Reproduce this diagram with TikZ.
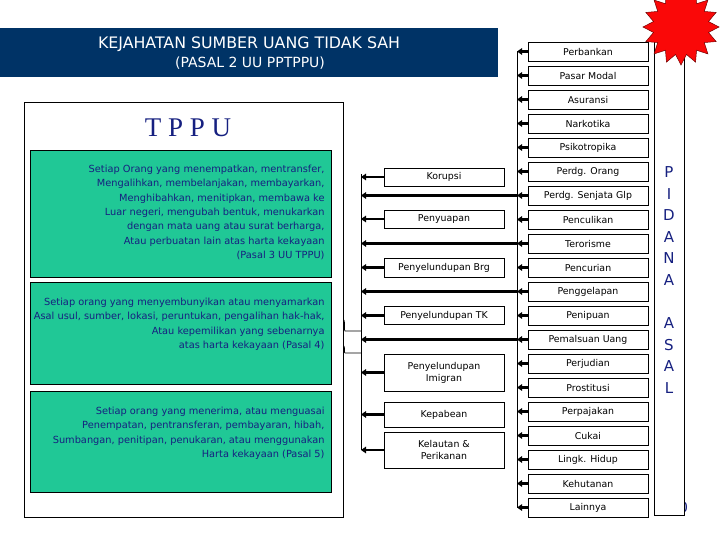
\documentclass[tikz,border=0pt]{standalone}
\usepackage{fontspec}
\setmainfont{DejaVu Sans}
\newfontfamily\tppufont{Liberation Serif}
\usetikzlibrary{arrows.meta,positioning}
\definecolor{bannerblue}{RGB}{0,51,102}
\definecolor{pasalgreen}{RGB}{32,200,150}
\definecolor{inknavy}{RGB}{22,32,128}
\definecolor{starred}{RGB}{250,8,8}

\begin{document}
\begin{tikzpicture}[x=1pt,y=-1pt,
  crimebox/.style={draw, line width=0.7pt, minimum width=120pt, minimum height=19pt,
    inner sep=1pt, align=center, font=\fontsize{9.4}{12}\selectfont},
  pasalbox/.style={draw, line width=0.7pt, fill=pasalgreen, minimum width=301pt, anchor=north west},
  pasaltext/.style={text=inknavy, align=right, inner sep=0pt, anchor=north east,
    font=\fontsize{9.8}{14.3}\selectfont},
  flow/.style={line width=2.4pt, -{Triangle[length=5pt,width=6.5pt]}},
  asalletter/.style={text=inknavy, inner sep=0pt, font=\fontsize{15}{15}\selectfont}]
\useasboundingbox (0,0) rectangle (720,540);
\clip (0,0) rectangle (720,540);

% title banner
\fill[bannerblue] (0,28) rectangle (498,77);
\node[text=white, font=\fontsize{15.8}{16}\selectfont] (title) at (249,44) {KEJAHATAN SUMBER UANG TIDAK SAH};
\node[text=white, font=\fontsize{14}{14}\selectfont] (pasal2) at (250,63) {(PASAL 2 UU PPTPPU)};

% TPPU box with the three pasal
\node[draw, line width=0.7pt, minimum width=319pt, minimum height=415pt, anchor=north west] (tppu) at (24,102) {};
\node[text=inknavy, font=\tppufont\fontsize{27}{27}\selectfont] (tppulabel) at (188,128) {T P P U};

\node[pasalbox, minimum height=127pt] (pasal3) at (30,150) {};
\node[pasaltext] (pasal3text) at ([xshift=-7pt,yshift=-15pt]pasal3.north east)
  {Setiap Orang yang menempatkan, mentransfer,\\
   Mengalihkan, membelanjakan, membayarkan,\\
   Menghibahkan, menitipkan, membawa ke\\
   Luar negeri, mengubah bentuk, menukarkan\\
   dengan mata uang atau surat berharga,\\
   Atau perbuatan lain atas harta kekayaan\\
   (Pasal 3 UU TPPU)};

\node[pasalbox, minimum height=102pt] (pasal4) at (30,282) {};
\node[pasaltext] (pasal4text) at ([xshift=-7pt,yshift=-16pt]pasal4.north east)
  {Setiap orang yang menyembunyikan atau menyamarkan\\
   Asal usul, sumber, lokasi, peruntukan, pengalihan hak-hak,\\
   Atau kepemilikan yang sebenarnya\\
   atas harta kekayaan (Pasal 4)};

\node[pasalbox, minimum height=101pt] (pasal5) at (30,391) {};
\node[pasaltext] (pasal5text) at ([xshift=-7pt,yshift=-16pt]pasal5.north east)
  {Setiap orang yang menerima, atau menguasai\\
   Penempatan, pentransferan, pembayaran, hibah,\\
   Sumbangan, penitipan, penukaran, atau menggunakan\\
   Harta kekayaan (Pasal 5)};

% right column of predicate crimes
\coordinate (rtop) at (517,51.5);
\coordinate (rbot) at (517,507.5);
\draw[line width=0.8pt] (rtop) -- (rbot);
\foreach \name [count=\i from 0] in {Perbankan, Pasar Modal, Asuransi, Narkotika, Psikotropika,
    Perdg. Orang, Perdg. Senjata Glp, Penculikan, Terorisme, Pencurian, Penggelapan,
    Penipuan, Pemalsuan Uang, Perjudian, Prostitusi, Perpajakan, Cukai, Lingk. Hidup,
    Kehutanan, Lainnya}
{
  \node[crimebox] (r\i) at (588,51.5+24*\i) {\name};
  \draw[flow] (r\i.west) -- (r\i.west -| rtop);
}

% middle column
\coordinate (mtop) at (361,174);
\coordinate (mbot) at (361,450);
\draw[line width=0.8pt] (mtop) -- (mbot);
\foreach \nm/\y/\h/\txt in {korupsi/177/18/Korupsi, penyuapan/219/18/Penyuapan,
    brg/267.5/19/Penyelundupan Brg, tk/315.5/18/Penyelundupan TK,
    imigran/372.5/37/{Penyelundupan\\Imigran}, kepabean/414.5/25/Kepabean,
    kelautan/450/36/{Kelautan \&\\Perikanan}}
{
  \node[crimebox, minimum width=120pt, minimum height=\h pt] (\nm) at (444,\y) {\txt};
  \draw[flow] (\nm.west) -- (\nm.west -| mtop);
}
\foreach \i in {6,8,10,12}
  \draw[flow] (r\i.west -| rtop) -- (r\i.west -| mtop);

% link to the TPPU box
\coordinate (linkup) at (361,331);
\coordinate (linklow) at (361,353);
\draw[line width=0.7pt] (linkup) -- (345,331) .. controls (343.5,331) and (345.5,323) .. (344,320);
\draw[line width=0.7pt] (linklow) -- (345,353) .. controls (343.5,353) and (345.5,349) .. (344,346);

% pidana asal column
\node[text=inknavy, inner sep=0pt, font=\fontsize{14}{14}\selectfont] (pagenum) at (683.5,507.5) {0};
\node[draw, line width=0.7pt, fill=white, minimum width=30pt, minimum height=476pt, anchor=south west] (asal) at (654,516) {};
\foreach \k/\ch in {0/P,1/I,2/D,3/A,4/N,5/A,7/A,8/S,9/A,10/L}
  \node[asalletter] (pa\k) at (669,172+21.6*\k) {\ch};

% red starburst
\filldraw[fill=starred, draw=red!45!black, line width=0.5pt]
  plot[domain=0:32, samples=33] ({681+(33+5*cos(\x*180))*cos(\x*360/32+90)},
                                 {27+(33+5*cos(\x*180))*sin(\x*360/32+90)}) -- cycle;
\end{tikzpicture}
\end{document}
